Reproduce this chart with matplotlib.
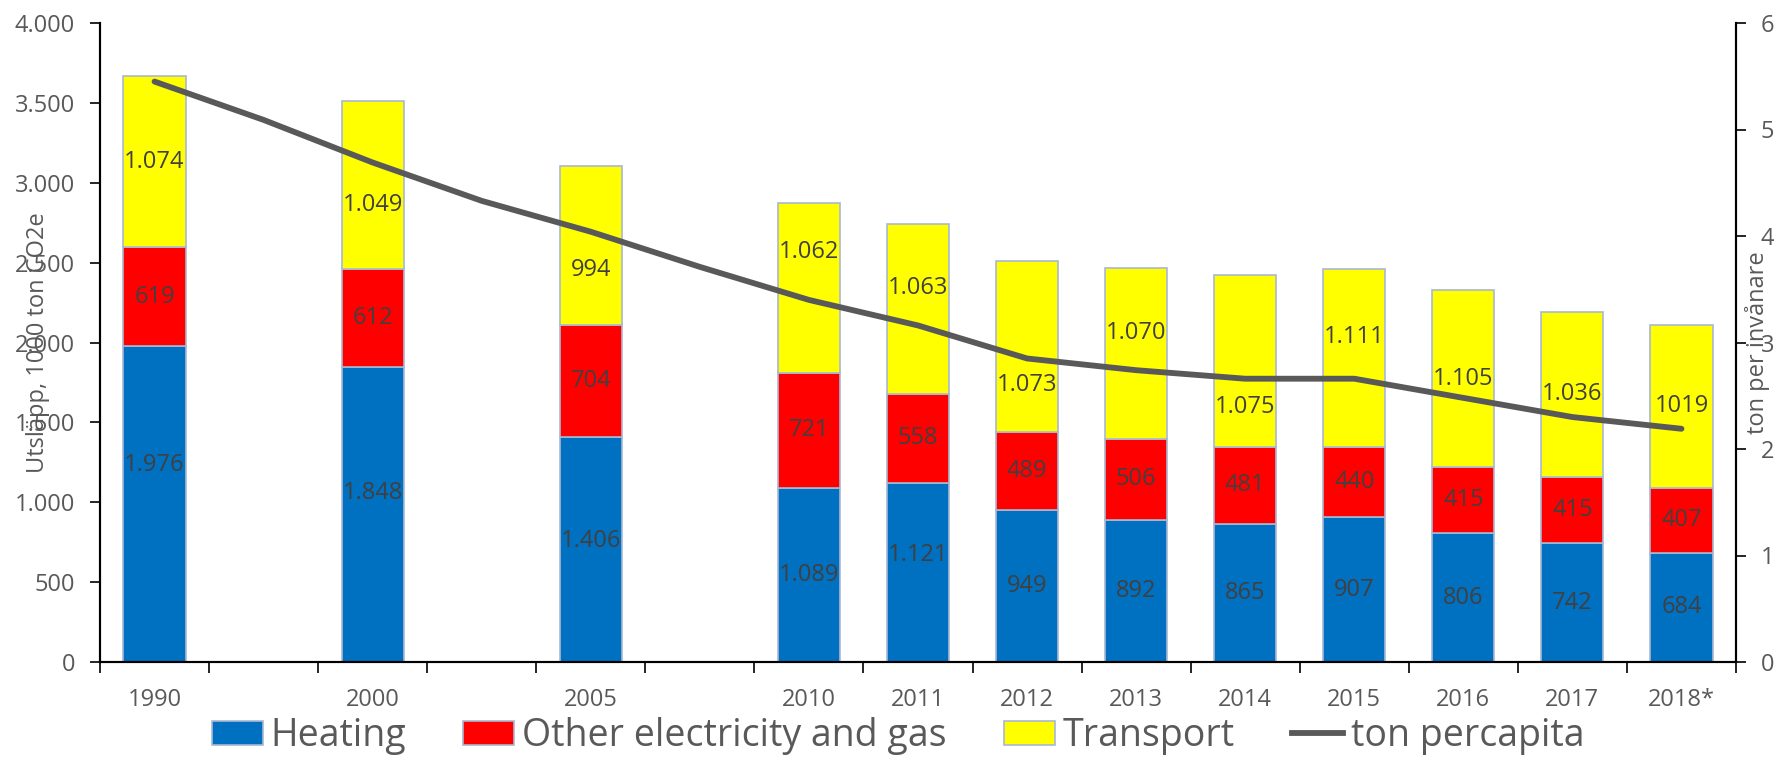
import matplotlib
matplotlib.use("Agg")
import matplotlib.pyplot as plt
import numpy as np
from matplotlib.lines import Line2D
from matplotlib.patches import Patch
from matplotlib.ticker import FuncFormatter

plt.rcParams["font.family"] = ["Open Sans", "DejaVu Sans"]

# category slots on the x axis (empty slots carry only the per-capita line)
categories = ["1990", "", "2000", "", "2005", "", "2010", "2011", "2012",
              "2013", "2014", "2015", "2016", "2017", "2018*"]

# emissions, 1000 ton CO2e (None = no bar in that slot)
heating = [1976, None, 1848, None, 1406, None, 1089, 1121, 949, 892, 865, 907, 806, 742, 684]
other_el_gas = [619, None, 612, None, 704, None, 721, 558, 489, 506, 481, 440, 415, 415, 407]
transport = [1074, None, 1049, None, 994, None, 1062, 1063, 1073, 1070, 1075, 1111, 1105, 1036, 1019]

# ton per inhabitant (right axis)
per_capita = [5.45, 5.09, 4.69, 4.33, 4.04, 3.71, 3.40, 3.16, 2.85, 2.74, 2.66, 2.66, 2.48, 2.30, 2.19]

C_HEAT = "#0070C0"
C_OTHER = "#FF0000"
C_TRANS = "#FFFF00"
C_LINE = "#595959"
C_EDGE = "#A9B8D3"
C_TEXT = "#595959"
C_LABEL = "#404040"

# hand-placed label nudges from the original (pixels, + is up)
trans_nudge = [0, 0, -20, 0, -24, 0, 36, 21, -38, 20, -46, 21, 0, 0, 0]
heat_nudge = [39, 0, 21, 0, 9, 0, 0, 17, 0, 0, 0, 0, 0, 0, 0]


def sep(v):
    return f"{int(v):,}".replace(",", ".")


fig = plt.figure(figsize=(17.76, 7.57), dpi=100)
ax = fig.add_axes([100 / 1776, 1 - 662 / 757, 1636 / 1776, 639 / 757])
ax2 = ax.twinx()

x = np.arange(len(categories))
idx = [i for i, h in enumerate(heating) if h is not None]
h = np.array([heating[i] for i in idx], float)
o = np.array([other_el_gas[i] for i in idx], float)
t = np.array([transport[i] for i in idx], float)
xb = x[idx]

bw = 0.57
ax.bar(xb, h, bw, color=C_HEAT, edgecolor=C_EDGE, linewidth=1.2)
ax.bar(xb, o, bw, bottom=h, color=C_OTHER, edgecolor=C_EDGE, linewidth=1.2)
ax.bar(xb, t, bw, bottom=h + o, color=C_TRANS, edgecolor=C_EDGE, linewidth=1.2)

for k, i in enumerate(idx):
    # 2018 transport label is written without separator in the original
    t_txt = str(transport[i]) if categories[i] == "2018*" else sep(transport[i])
    segs = [(h[k] / 2, sep(heating[i]), heat_nudge[i]),
            (h[k] + o[k] / 2, sep(other_el_gas[i]), 0),
            (h[k] + o[k] + t[k] / 2, t_txt, trans_nudge[i])]
    for yc, txt, dy in segs:
        ax.annotate(txt, (x[i], yc), xytext=(0, dy), textcoords="offset pixels",
                    ha="center", va="center", fontsize=17, color=C_LABEL)

ax2.plot(x, per_capita, color=C_LINE, lw=4.2, solid_capstyle="round",
         solid_joinstyle="round")

ax.set_xlim(-0.5, len(categories) - 0.5)
ax.set_ylim(0, 4000)
ax2.set_ylim(0, 6)
ax.set_yticks(np.arange(0, 4001, 500))
ax.yaxis.set_major_formatter(FuncFormatter(lambda v, p: sep(v)))
ax2.set_yticks(range(7))

ax.set_xticks(x)
ax.set_xticklabels(categories)
ax.set_xticks(np.arange(-0.5, len(categories)), minor=True)
ax.tick_params(axis="x", which="major", length=0, pad=19, labelsize=17, labelcolor=C_TEXT)
ax.tick_params(axis="x", which="minor", length=8, width=1.2, direction="out")
ax.tick_params(axis="y", length=7, width=1.2, pad=11, labelsize=17, labelcolor=C_TEXT)
ax2.tick_params(axis="y", length=7, width=1.2, pad=11, labelsize=17, labelcolor=C_TEXT)

for a in (ax, ax2):
    a.spines["top"].set_visible(False)
    for s in ("left", "right", "bottom"):
        a.spines[s].set_linewidth(1.5)
        a.spines[s].set_color("black")

ax.text(-0.0382, 0.5, "Utsläpp, 1000 ton CO2e", transform=ax.transAxes, rotation=90,
        ha="center", va="center", fontsize=17, color=C_TEXT)
ax.text(1.0134, 0.5, "ton per invånare", transform=ax.transAxes, rotation=90,
        ha="center", va="center", fontsize=17, color=C_TEXT)

handles = [Patch(facecolor=C_HEAT, edgecolor=C_EDGE, lw=1.2),
           Patch(facecolor=C_OTHER, edgecolor=C_EDGE, lw=1.2),
           Patch(facecolor=C_TRANS, edgecolor=C_EDGE, lw=1.2),
           Line2D([], [], color=C_LINE, lw=4.2)]
fig.legend(handles, ["Heating", "Other electricity and gas", "Transport", "ton percapita"],
           loc="center", bbox_to_anchor=(898 / 1776, 1 - 736 / 757), ncol=4, frameon=False,
           fontsize=27, labelcolor=C_TEXT, handlelength=1.36, handleheight=0.61,
           handletextpad=0.21, columnspacing=1.52, borderpad=0)

fig.savefig("out.png", dpi=100)
